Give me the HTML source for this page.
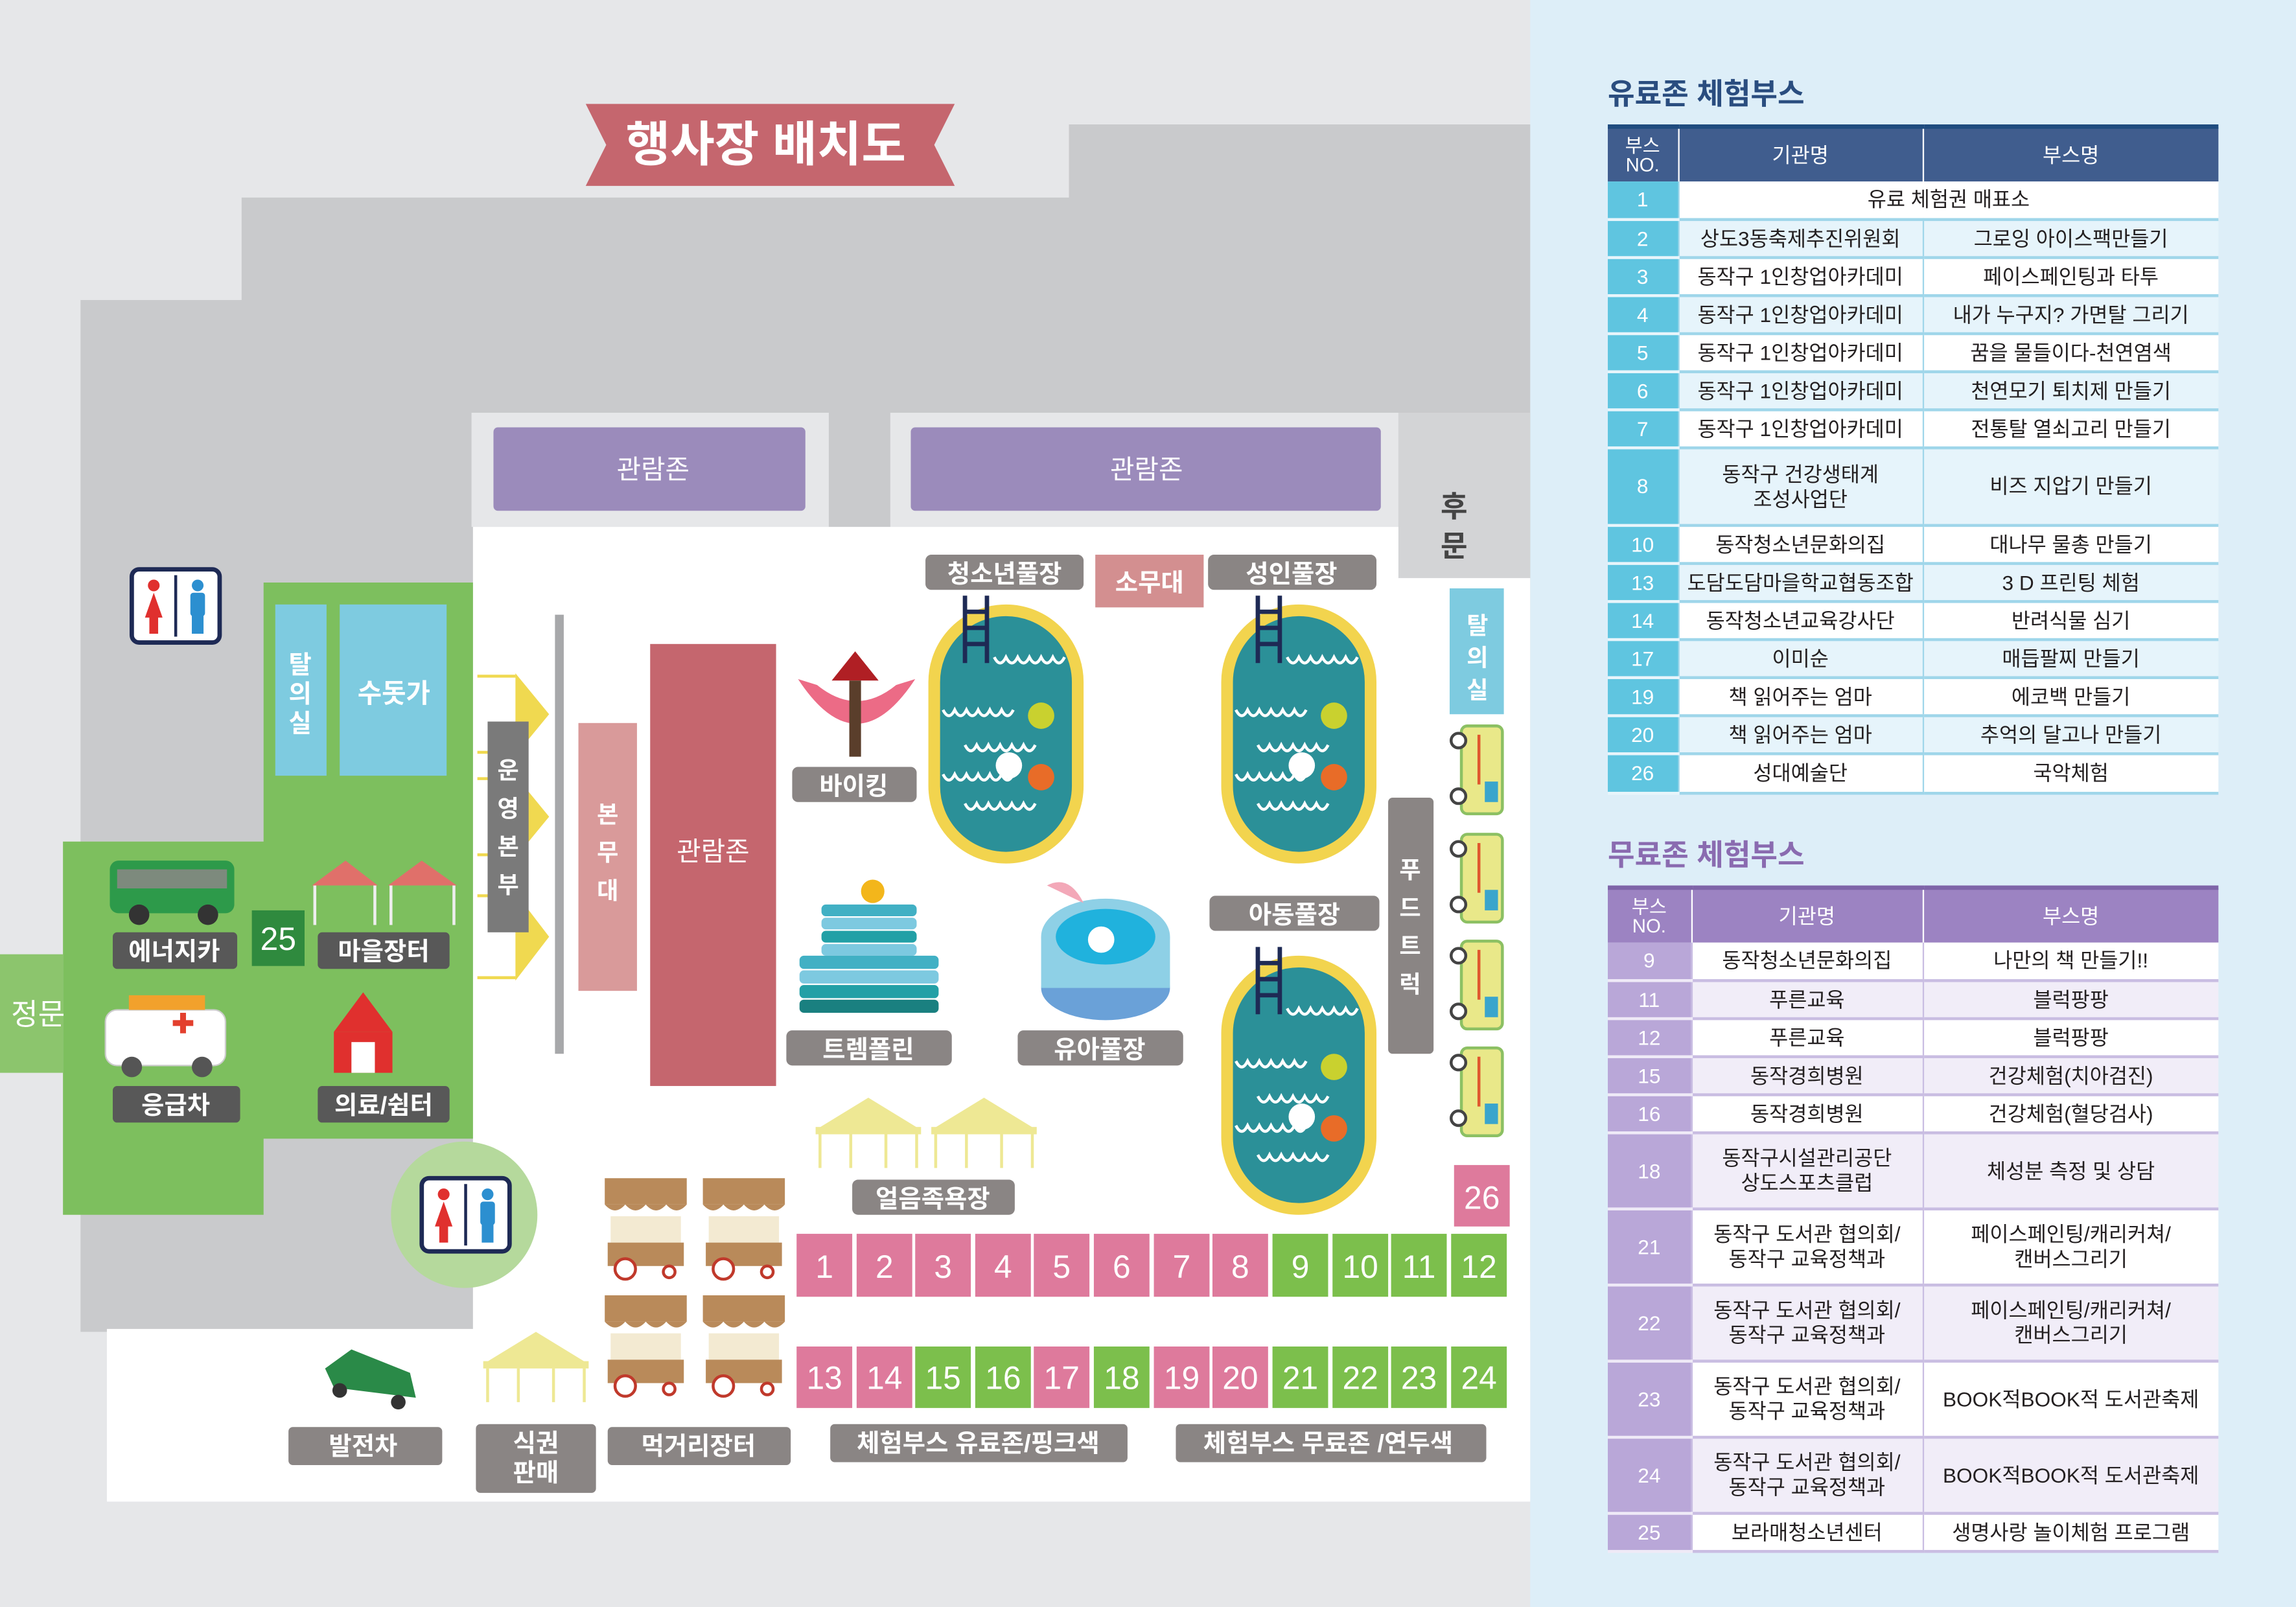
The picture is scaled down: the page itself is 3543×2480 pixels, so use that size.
<!DOCTYPE html>
<html><head><meta charset="utf-8">
<style>
html,body{margin:0;padding:0;width:3543px;height:2480px;overflow:hidden;background:#e6e7e9}
#w{position:absolute;left:0;top:0;width:1568px;height:1098px;transform:scale(2.2596,2.2587);transform-origin:0 0;font-family:"Liberation Sans","Noto Sans CJK KR",sans-serif}
svg text{font-family:"Liberation Sans","Noto Sans CJK KR",sans-serif}
.t{position:absolute;border-collapse:collapse;table-layout:fixed;font-size:14px;color:#231f20}
.t td{text-align:center;padding:0;line-height:1.2;border-bottom:2px solid #9fd6ea;border-left:1px solid #9fd6ea}
.t1 th{background:#405d8e;color:#fff;font-weight:normal;font-size:14px;height:34px;border-left:1px solid #fff;border-top:3px solid #1f4c7f}
.t2 td{border-bottom:2px solid #c9bde2;border-left:1px solid #c9bde2}
.t2 th{background:#9c83c2;color:#fff;font-weight:normal;font-size:14px;height:34px;border-left:1px solid #fff;border-top:3px solid #7e64a8}
.a td{background:#fff}.b td{background:#e6f4fb}
.t2 .a td{background:#fff}.t2 .b td{background:#f1edf8}
.t1 tr td.n{background:#5fc5e0!important;color:#fff;border-left:none;border-bottom:2px solid #e8f5fb}
.t2 tr td.n{background:#b9a7d8!important;color:#fff;border-left:none;border-bottom:2px solid #efeaf7}
</style></head><body><div id="w">
<svg width="1568" height="1098" viewBox="0 0 1568 1098" style="position:absolute;left:0;top:0">
<defs>
<path id="wv" d="M0 0 q4 8 8 0 q4 8 8 0 q4 8 8 0 q4 8 8 0 q4 8 8 0 q4 8 8 0" fill="none" stroke="#fff" stroke-width="2"/>
<g id="pool">
<rect x="4" y="4" width="98" height="169" rx="49" fill="#2b9098" stroke="#f2d44e" stroke-width="8"/>
<use href="#wv" x="45" y="36"/>
<use href="#wv" x="10" y="72"/>
<use href="#wv" x="25" y="96"/>
<use href="#wv" x="10" y="116"/>
<use href="#wv" x="25" y="136"/>
<circle cx="77" cy="76" r="9" fill="#c9d12f"/>
<circle cx="55" cy="110" r="9" fill="#fff"/>
<circle cx="77" cy="118" r="9" fill="#e86c28"/>
<g stroke="#1e2a55" stroke-width="3"><line x1="25" y1="-6" x2="25" y2="40"/><line x1="40" y1="-6" x2="40" y2="40"/><line x1="25" y1="5" x2="40" y2="5"/><line x1="25" y1="16" x2="40" y2="16"/><line x1="25" y1="27" x2="40" y2="27"/></g>
</g>
<g id="truck">
<rect x="6" y="0" width="28" height="60" rx="4" fill="#e9e889" stroke="#8cc063" stroke-width="2"/>
<rect x="22" y="38" width="9" height="14" fill="#3aa5cc"/>
<line x1="18" y1="6" x2="18" y2="40" stroke="#e0572e" stroke-width="2"/>
<circle cx="4" cy="10" r="5" fill="#fff" stroke="#444" stroke-width="2"/>
<circle cx="4" cy="48" r="5" fill="#fff" stroke="#444" stroke-width="2"/>
</g>
<g id="tent">
<path d="M0 22 L36 0 L72 22 Z" fill="#eee894"/>
<rect x="0" y="20" width="72" height="5" fill="#eee894"/>
<g stroke="#eee894" stroke-width="2"><line x1="3" y1="25" x2="3" y2="48"/><line x1="69" y1="25" x2="69" y2="48"/><line x1="24" y1="25" x2="24" y2="48"/><line x1="48" y1="25" x2="48" y2="48"/></g>
</g>
<g id="stall">
<path d="M0 0 h56 v18 h-56z" fill="#b98a5a"/>
<path d="M0 18 q7 8 14 0 q7 8 14 0 q7 8 14 0 q7 8 14 0" fill="#b98a5a"/>
<rect x="4" y="26" width="48" height="18" fill="#f3ead2"/>
<rect x="2" y="44" width="52" height="16" fill="#b98a5a"/>
<circle cx="14" cy="62" r="7" fill="#fff" stroke="#c0392b" stroke-width="2"/>
<circle cx="44" cy="64" r="4" fill="#fff" stroke="#c0392b" stroke-width="2"/>
</g>
<g id="toilet">
<rect x="0" y="0" width="60" height="50" rx="5" fill="#fff" stroke="#1e2a55" stroke-width="3"/>
<line x1="30" y1="4" x2="30" y2="46" stroke="#1e2a55" stroke-width="2"/>
<circle cx="15" cy="11" r="4" fill="#e0302e"/><path d="M9 33 L15 16 L21 33Z" fill="#e0302e"/><rect x="12" y="32" width="6" height="12" fill="#e0302e"/>
<circle cx="45" cy="11" r="4" fill="#2c8fd0"/><rect x="40" y="16" width="10" height="16" rx="2" fill="#2c8fd0"/><rect x="41" y="31" width="8" height="13" fill="#2c8fd0"/>
</g>
</defs>
<rect x="0" y="0" width="1045" height="1098" fill="#e6e7e9"/>
<rect x="1045" y="0" width="523" height="1098" fill="#ddeef8"/>
<path d="M55 205 H165 V135 H730 V85 H1045 V910 H55 Z" fill="#c9cacc"/>
<rect x="322" y="282" width="244" height="78" fill="#e6e7e9"/>
<rect x="608" y="282" width="347" height="78" fill="#e6e7e9"/>
<rect x="955" y="282" width="90" height="113" fill="#d3d4d6"/>
<path d="M323 360 H955 V395 H1045 V1026 H73 V908 H323 Z" fill="#fff"/>
<path d="M180 398 H323 V778 H180 V830 H43 V575 H180 Z" fill="#7dbf5e"/>
<rect x="0" y="652" width="43" height="81" fill="#8cc56d"/>
<circle cx="317" cy="830" r="50" fill="#b5d99c"/>
<use href="#toilet" x="288" y="805"/>
<use href="#toilet" x="90" y="389"/>
<rect x="188" y="413" width="35" height="117" fill="#7ecbe0"/>
<rect x="232" y="413" width="73" height="117" fill="#7ecbe0"/>
<text x="205" y="460" fill="#fff" font-size="17" font-weight="bold" text-anchor="middle">탈</text>
<text x="205" y="480" fill="#fff" font-size="17" font-weight="bold" text-anchor="middle">의</text>
<text x="205" y="500" fill="#fff" font-size="17" font-weight="bold" text-anchor="middle">실</text>
<text x="269" y="480" fill="#fff" font-size="18" font-weight="bold" text-anchor="middle">수돗가</text>
<rect x="75" y="588" width="85" height="36" rx="6" fill="#2d9a4a"/>
<rect x="80" y="594" width="75" height="13" fill="#7d8a7d"/>
<circle cx="95" cy="625" r="7" fill="#333"/><circle cx="142" cy="625" r="7" fill="#333"/>
<path d="M213 605 L236 588 L258 605 Z" fill="#e0706a"/><path d="M265 605 L288 588 L312 605 Z" fill="#e0706a"/>
<g stroke="#eee" stroke-width="2"><line x1="215" y1="605" x2="215" y2="632"/><line x1="256" y1="605" x2="256" y2="632"/><line x1="267" y1="605" x2="267" y2="632"/><line x1="310" y1="605" x2="310" y2="632"/></g>
<rect x="72" y="690" width="82" height="38" rx="8" fill="#fff" stroke="#ccc"/>
<rect x="88" y="680" width="52" height="10" fill="#f2a12c"/>
<rect x="118" y="697" width="14" height="4" fill="#e3402e"/><rect x="123" y="692" width="4" height="14" fill="#e3402e"/>
<circle cx="90" cy="729" r="7" fill="#555"/><circle cx="138" cy="729" r="7" fill="#555"/>
<path d="M228 705 L248 678 L268 705 Z" fill="#e0302e"/><rect x="228" y="705" width="40" height="28" fill="#e0302e"/><rect x="240" y="712" width="16" height="21" fill="#fff"/>
<g font-size="17" font-weight="bold" fill="#fff" text-anchor="middle">
<rect x="77" y="637" width="85" height="25" rx="3" fill="#585858"/><text x="119" y="656">에너지카</text>
<rect x="172" y="622" width="36" height="38" fill="#2f8a3e"/><text x="190" y="649" font-size="22" font-weight="normal">25</text>
<rect x="217" y="637" width="90" height="25" rx="3" fill="#585858"/><text x="262" y="656">마을장터</text>
<rect x="77" y="742" width="87" height="25" rx="3" fill="#585858"/><text x="120" y="761">응급차</text>
<rect x="217" y="742" width="90" height="25" rx="3" fill="#585858"/><text x="262" y="761">의료/쉼터</text>
<text x="26" y="700" font-size="20" font-weight="normal">정문</text>
</g>
<path d="M410 71 H652 L638 99 L652 127 H400 L414 99 L400 71Z" fill="#c5666e"/>
<text x="523" y="110" font-size="33" font-weight="bold" fill="#fff" text-anchor="middle">행사장 배치도</text>
<rect x="337" y="292" width="213" height="57" rx="3" fill="#9b8bbb"/><text x="446" y="327" font-size="18" fill="#fff" text-anchor="middle">관람존</text>
<rect x="622" y="292" width="321" height="57" rx="3" fill="#9b8bbb"/><text x="783" y="327" font-size="18" fill="#fff" text-anchor="middle">관람존</text>
<text x="993" y="353" font-size="20" font-weight="bold" fill="#444" text-anchor="middle">후</text>
<text x="993" y="380" font-size="20" font-weight="bold" fill="#444" text-anchor="middle">문</text>
<g fill="#f0d950">
<path d="M352 460 L375 488 L352 516Z"/><path d="M352 530 L375 558 L352 586Z"/><path d="M352 610 L375 640 L352 670Z"/>
</g>
<g stroke="#f0d950" stroke-width="2"><line x1="326" y1="462" x2="352" y2="462"/><line x1="326" y1="514" x2="352" y2="514"/><line x1="326" y1="532" x2="352" y2="532"/><line x1="326" y1="584" x2="352" y2="584"/><line x1="326" y1="612" x2="352" y2="612"/><line x1="326" y1="668" x2="352" y2="668"/></g>
<rect x="379" y="420" width="6" height="300" fill="#a7a8aa"/>
<rect x="333" y="493" width="28" height="144" fill="#7a7a7a"/>
<g font-size="16" font-weight="bold" fill="#fff" text-anchor="middle"><text x="347" y="532">운</text><text x="347" y="558">영</text><text x="347" y="584">본</text><text x="347" y="610">부</text></g>
<rect x="395" y="494" width="40" height="183" fill="#d99a9a"/>
<g font-size="16" font-weight="bold" fill="#fff" text-anchor="middle"><text x="415" y="562">본</text><text x="415" y="588">무</text><text x="415" y="614">대</text></g>
<rect x="444" y="440" width="86" height="302" fill="#c5666e"/>
<text x="487" y="588" font-size="18" fill="#fff" text-anchor="middle">관람존</text>
<path d="M545 464 Q585 525 625 464 L612 468 Q585 490 558 468Z" fill="#ec6b86"/>
<path d="M568 465 L584 445 L600 465Z" fill="#b01f24"/>
<rect x="580" y="465" width="8" height="52" fill="#5a3e2b"/>
<rect x="561" y="618" width="65" height="8" rx="3" fill="#41b0c4"/><rect x="561" y="627" width="65" height="8" rx="3" fill="#7dc9e0"/><rect x="561" y="636" width="65" height="8" rx="3" fill="#22a0a6"/><rect x="561" y="645" width="65" height="8" rx="3" fill="#7dc9e0"/>
<rect x="546" y="653" width="95" height="9" rx="3" fill="#41b0c4"/><rect x="546" y="663" width="95" height="9" rx="3" fill="#7dc9e0"/><rect x="546" y="673" width="95" height="9" rx="3" fill="#22a0a6"/><rect x="546" y="683" width="95" height="9" rx="3" fill="#1a8080"/>
<circle cx="596" cy="609" r="8" fill="#f3b61b"/>
<ellipse cx="755" cy="675" rx="44" ry="22" fill="#6aa1d8"/><rect x="711" y="640" width="88" height="35" fill="#8ed0e6"/><ellipse cx="755" cy="640" rx="44" ry="26" fill="#8ed0e6"/><ellipse cx="755" cy="640" rx="34" ry="19" fill="#20b2dd"/>
<circle cx="752" cy="642" r="9" fill="#fff"/><path d="M715 605 q15 -8 25 12 z" fill="#f3a8b8"/>
<use href="#pool" x="634" y="413"/>
<use href="#pool" x="834" y="413"/>
<use href="#pool" x="834" y="653"/>
<g font-size="17" font-weight="bold" fill="#fff" text-anchor="middle">
<rect x="632" y="379" width="108" height="24" rx="4" fill="#8a8584"/><text x="686" y="398">청소년풀장</text>
<rect x="748" y="379" width="74" height="36" fill="#d38f90"/><text x="785" y="404">소무대</text>
<rect x="825" y="379" width="115" height="24" rx="4" fill="#8a8584"/><text x="882" y="398">성인풀장</text>
<rect x="826" y="612" width="116" height="24" rx="4" fill="#8a8584"/><text x="884" y="631">아동풀장</text>
<rect x="541" y="524" width="85" height="24" rx="4" fill="#8a8584"/><text x="583" y="543">바이킹</text>
<rect x="537" y="704" width="113" height="24" rx="4" fill="#8a8584"/><text x="593" y="723">트렘폴린</text>
<rect x="695" y="704" width="113" height="24" rx="4" fill="#8a8584"/><text x="751" y="723">유아풀장</text>
<rect x="582" y="806" width="111" height="24" rx="4" fill="#8a8584"/><text x="637" y="825">얼음족욕장</text>
</g>
<rect x="990" y="402" width="37" height="86" fill="#7ecbe0"/>
<g font-size="16" font-weight="bold" fill="#fff" text-anchor="middle"><text x="1009" y="433">탈</text><text x="1009" y="455">의</text><text x="1009" y="477">실</text></g>
<use href="#truck" x="992" y="496"/><use href="#truck" x="992" y="570"/><use href="#truck" x="992" y="643"/><use href="#truck" x="992" y="716"/>
<rect x="948" y="545" width="31" height="175" rx="3" fill="#8a8584"/>
<g font-size="16" font-weight="bold" fill="#fff" text-anchor="middle"><text x="963" y="600">푸</text><text x="963" y="626">드</text><text x="963" y="652">트</text><text x="963" y="678">럭</text></g>
<use href="#tent" x="557" y="750"/><use href="#tent" x="636" y="750"/><use href="#tent" x="330" y="910"/>
<use href="#stall" x="413" y="805"/><use href="#stall" x="480" y="805"/><use href="#stall" x="413" y="885"/><use href="#stall" x="480" y="885"/>
<path d="M222 935 L240 922 L280 938 L284 955 L228 948Z" fill="#2a8a48"/><circle cx="232" cy="950" r="5" fill="#333"/><circle cx="272" cy="958" r="5" fill="#333"/>
<g font-size="22" fill="#fff" text-anchor="middle">
<rect x="993" y="796" width="38" height="42" fill="#de7a9c"/><text x="1012" y="826">26</text>
<rect x="544" y="843" width="38" height="43" fill="#de7a9c"/><text x="563" y="873">1</text>
<rect x="585" y="843" width="38" height="43" fill="#de7a9c"/><text x="604" y="873">2</text>
<rect x="625" y="843" width="38" height="43" fill="#de7a9c"/><text x="644" y="873">3</text>
<rect x="666" y="843" width="38" height="43" fill="#de7a9c"/><text x="685" y="873">4</text>
<rect x="706" y="843" width="38" height="43" fill="#de7a9c"/><text x="725" y="873">5</text>
<rect x="747" y="843" width="38" height="43" fill="#de7a9c"/><text x="766" y="873">6</text>
<rect x="788" y="843" width="38" height="43" fill="#de7a9c"/><text x="807" y="873">7</text>
<rect x="828" y="843" width="38" height="43" fill="#de7a9c"/><text x="847" y="873">8</text>
<rect x="869" y="843" width="38" height="43" fill="#7cbf4c"/><text x="888" y="873">9</text>
<rect x="910" y="843" width="38" height="43" fill="#7cbf4c"/><text x="929" y="873">10</text>
<rect x="950" y="843" width="38" height="43" fill="#7cbf4c"/><text x="969" y="873">11</text>
<rect x="991" y="843" width="38" height="43" fill="#7cbf4c"/><text x="1010" y="873">12</text>
<rect x="544" y="920" width="38" height="42" fill="#de7a9c"/><text x="563" y="949">13</text>
<rect x="585" y="920" width="38" height="42" fill="#de7a9c"/><text x="604" y="949">14</text>
<rect x="625" y="920" width="38" height="42" fill="#7cbf4c"/><text x="644" y="949">15</text>
<rect x="666" y="920" width="38" height="42" fill="#7cbf4c"/><text x="685" y="949">16</text>
<rect x="706" y="920" width="38" height="42" fill="#de7a9c"/><text x="725" y="949">17</text>
<rect x="747" y="920" width="38" height="42" fill="#7cbf4c"/><text x="766" y="949">18</text>
<rect x="788" y="920" width="38" height="42" fill="#de7a9c"/><text x="807" y="949">19</text>
<rect x="828" y="920" width="38" height="42" fill="#de7a9c"/><text x="847" y="949">20</text>
<rect x="869" y="920" width="38" height="42" fill="#7cbf4c"/><text x="888" y="949">21</text>
<rect x="910" y="920" width="38" height="42" fill="#7cbf4c"/><text x="929" y="949">22</text>
<rect x="950" y="920" width="38" height="42" fill="#7cbf4c"/><text x="969" y="949">23</text>
<rect x="991" y="920" width="38" height="42" fill="#7cbf4c"/><text x="1010" y="949">24</text>
</g>
<g font-size="17" font-weight="bold" fill="#fff" text-anchor="middle">
<rect x="197" y="975" width="105" height="26" rx="3" fill="#8a8584"/><text x="248" y="994">발전차</text>
<rect x="325" y="973" width="82" height="47" rx="3" fill="#8a8584"/><text x="366" y="992">식권</text><text x="366" y="1012">판매</text>
<rect x="415" y="975" width="125" height="26" rx="3" fill="#8a8584"/><text x="477" y="994">먹거리장터</text>
<rect x="567" y="973" width="203" height="26" rx="3" fill="#8a8584"/><text x="668" y="992">체험부스 유료존/핑크색</text>
<rect x="803" y="973" width="212" height="26" rx="3" fill="#8a8584"/><text x="907" y="992">체험부스 무료존 /연두색</text>
</g>
<text x="1098" y="71" font-size="20" font-weight="bold" fill="#2a4d7f">유료존 체험부스</text>
<text x="1098" y="591" font-size="20" font-weight="bold" fill="#8a6bb0">무료존 체험부스</text>
</svg>

<table class="t t1" style="left:1098px;top:85px;width:417px">
<colgroup><col style="width:48px"><col style="width:167px"><col style="width:202px"></colgroup>
<tr><th style="border-left:none;font-size:13px;line-height:1">부스<br>NO.</th><th>기관명</th><th>부스명</th></tr>
<tr class="a" style="height:26px"><td class="n">1</td><td colspan="2">유료 체험권 매표소</td></tr>
<tr class="b" style="height:26px"><td class="n">2</td><td>상도3동축제추진위원회</td><td>그로잉 아이스팩만들기</td></tr>
<tr class="a" style="height:26px"><td class="n">3</td><td>동작구 1인창업아카데미</td><td>페이스페인팅과 타투</td></tr>
<tr class="b" style="height:26px"><td class="n">4</td><td>동작구 1인창업아카데미</td><td>내가 누구지? 가면탈 그리기</td></tr>
<tr class="a" style="height:26px"><td class="n">5</td><td>동작구 1인창업아카데미</td><td>꿈을 물들이다-천연염색</td></tr>
<tr class="b" style="height:26px"><td class="n">6</td><td>동작구 1인창업아카데미</td><td>천연모기 퇴치제 만들기</td></tr>
<tr class="a" style="height:26px"><td class="n">7</td><td>동작구 1인창업아카데미</td><td>전통탈 열쇠고리 만들기</td></tr>
<tr class="b" style="height:53px"><td class="n">8</td><td>동작구 건강생태계<br>조성사업단</td><td>비즈 지압기 만들기</td></tr>
<tr class="a" style="height:26px"><td class="n">10</td><td>동작청소년문화의집</td><td>대나무 물총 만들기</td></tr>
<tr class="b" style="height:26px"><td class="n">13</td><td>도담도담마을학교협동조합</td><td>3 D 프린팅 체험</td></tr>
<tr class="a" style="height:26px"><td class="n">14</td><td>동작청소년교육강사단</td><td>반려식물 심기</td></tr>
<tr class="b" style="height:26px"><td class="n">17</td><td>이미순</td><td>매듭팔찌 만들기</td></tr>
<tr class="a" style="height:26px"><td class="n">19</td><td>책 읽어주는 엄마</td><td>에코백 만들기</td></tr>
<tr class="b" style="height:26px"><td class="n">20</td><td>책 읽어주는 엄마</td><td>추억의 달고나 만들기</td></tr>
<tr class="a" style="height:27px"><td class="n">26</td><td>성대예술단</td><td>국악체험</td></tr>
</table>

<table class="t t2" style="left:1098px;top:605px;width:417px">
<colgroup><col style="width:57px"><col style="width:158px"><col style="width:202px"></colgroup>
<tr><th style="border-left:none;font-size:13px;line-height:1">부스<br>NO.</th><th>기관명</th><th>부스명</th></tr>
<tr class="a" style="height:26px"><td class="n">9</td><td>동작청소년문화의집</td><td>나만의 책 만들기!!</td></tr>
<tr class="b" style="height:26px"><td class="n">11</td><td>푸른교육</td><td>블럭팡팡</td></tr>
<tr class="a" style="height:26px"><td class="n">12</td><td>푸른교육</td><td>블럭팡팡</td></tr>
<tr class="b" style="height:26px"><td class="n">15</td><td>동작경희병원</td><td>건강체험(치아검진)</td></tr>
<tr class="a" style="height:26px"><td class="n">16</td><td>동작경희병원</td><td>건강체험(혈당검사)</td></tr>
<tr class="b" style="height:52px"><td class="n">18</td><td>동작구시설관리공단<br>상도스포츠클럽</td><td>체성분 측정 및 상담</td></tr>
<tr class="a" style="height:52px"><td class="n">21</td><td>동작구 도서관 협의회/<br>동작구 교육정책과</td><td>페이스페인팅/캐리커쳐/<br>캔버스그리기</td></tr>
<tr class="b" style="height:52px"><td class="n">22</td><td>동작구 도서관 협의회/<br>동작구 교육정책과</td><td>페이스페인팅/캐리커쳐/<br>캔버스그리기</td></tr>
<tr class="a" style="height:52px"><td class="n">23</td><td>동작구 도서관 협의회/<br>동작구 교육정책과</td><td>BOOK적BOOK적 도서관축제</td></tr>
<tr class="b" style="height:52px"><td class="n">24</td><td>동작구 도서관 협의회/<br>동작구 교육정책과</td><td>BOOK적BOOK적 도서관축제</td></tr>
<tr class="a" style="height:26px"><td class="n">25</td><td>보라매청소년센터</td><td>생명사랑 놀이체험 프로그램</td></tr>
</table>
</div></body></html>
